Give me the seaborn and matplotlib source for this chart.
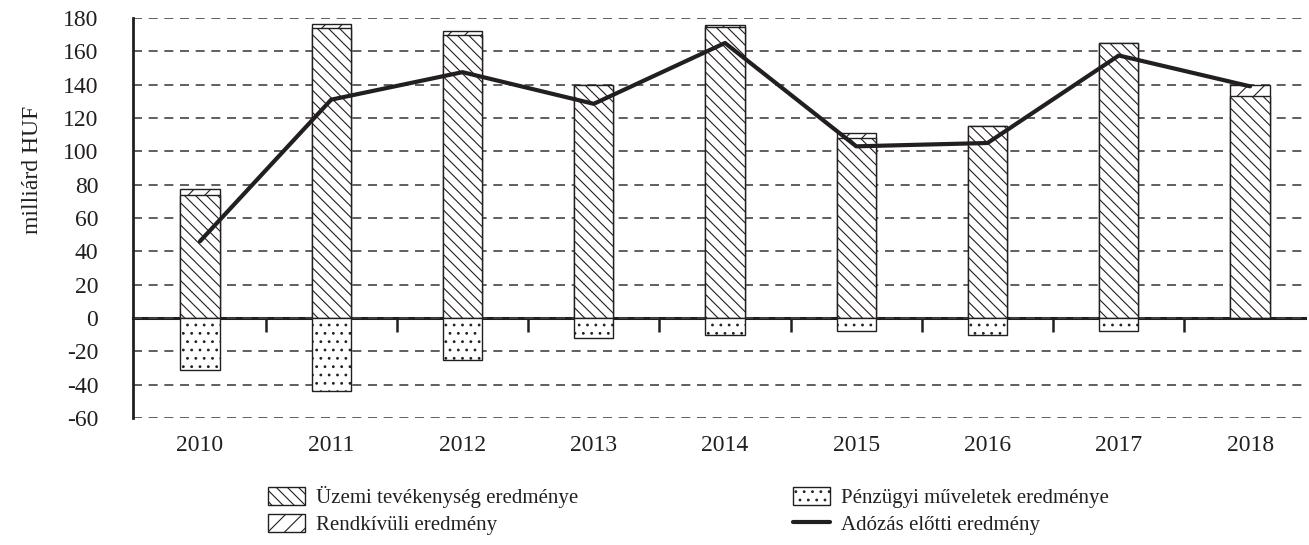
import numpy as np
import pandas as pd
import matplotlib.pyplot as plt
from matplotlib.patches import Patch
from matplotlib.lines import Line2D
import seaborn as sns

years = ['2010', '2011', '2012', '2013', '2014', '2015', '2016', '2017', '2018']
uzemi = [74, 174, 170, 140, 174.5, 108, 115, 165, 133]
rendkivuli = [3.5, 2.5, 2, 0, 1, 3, 0, 0, 6.5]
penzugyi = [-31, -43.5, -25, -12, -10, -8, -10, -8, 0]
adozas_elotti = [46, 131, 147.5, 128.5, 165, 103, 105, 157.5, 139]
y_ticks = [-60, -40, -20, 0, 20, 40, 60, 80, 100, 120, 140, 160, 180]

df = pd.DataFrame({'ev': years, 'uzemi': uzemi, 'rendkivuli': rendkivuli,
                   'penzugyi': penzugyi, 'adozas': adozas_elotti})
# the extraordinary result sits on top of the operating result
df['felso'] = df['uzemi'] + df['rendkivuli']

ink = '#231f20'
fs = 17
sns.set_style('white')
plt.rcParams['font.family'] = ['Liberation Serif', 'DejaVu Serif']
plt.rcParams['hatch.linewidth'] = 0.8
plt.rcParams['hatch.color'] = ink

fig = plt.figure(figsize=(13.09, 5.45), dpi=100)
ax = fig.add_axes([0.1016, 0.233, 0.8955, 0.734])

bar_kw = dict(color='white', saturation=1, edgecolor=ink, linewidth=1, width=0.3, ax=ax, zorder=2)
sns.barplot(data=df, x='ev', y='felso', **bar_kw)
for p in ax.containers[-1]:
    p.set_hatch('//')
sns.barplot(data=df, x='ev', y='uzemi', **bar_kw)
for p in ax.containers[-1]:
    p.set_hatch('\\\\\\')
sns.barplot(data=df, x='ev', y='penzugyi', **bar_kw)
for p in ax.containers[-1]:
    p.set_hatch('..')

sns.lineplot(data=df, x='ev', y='adozas', color=ink, linewidth=3, ax=ax, zorder=4)

ax.set_ylim(-60, 180)
ax.set_xlim(-0.51, 8.42)
ax.set_yticks(y_ticks, labels=[str(v) for v in y_ticks])
ax.yaxis.grid(True, linestyle=(0, (5.4, 4.0)), color='#444444', linewidth=1.2)
ax.set_axisbelow(True)
for s in ['top', 'right', 'bottom']:
    ax.spines[s].set_visible(False)
ax.spines['left'].set_linewidth(2)
ax.spines['left'].set_color(ink)
ax.tick_params(axis='y', length=10, width=1.8, direction='out', color=ink,
               labelsize=fs, labelcolor=ink, pad=15)
ax.tick_params(axis='x', length=0, labelsize=fs, labelcolor=ink, pad=12)
ax.set_xlabel('')
ax.set_ylabel('milliárd HUF', fontsize=fs, color=ink)
ax.yaxis.set_label_coords(-0.077, 0.62)

# zero line with category boundary ticks
sec = ax.secondary_xaxis(0.25)
sec.set_xticks(np.arange(len(years) - 1) + 0.5)
sec.tick_params(axis='x', length=10, width=1.8, direction='out', color=ink, labelbottom=False)
sec.spines['bottom'].set_linewidth(2.2)
sec.spines['bottom'].set_color(ink)

handles = [
    Patch(facecolor='white', edgecolor=ink, hatch='\\\\\\', label='Üzemi tevékenység eredménye'),
    Patch(facecolor='white', edgecolor=ink, hatch='//', label='Rendkívüli eredmény'),
    Patch(facecolor='white', edgecolor=ink, hatch='..', label='Pénzügyi műveletek eredménye'),
    Line2D([], [], color=ink, linewidth=3, label='Adózás előtti eredmény'),
]
leg = fig.legend(handles=handles, ncol=2, loc='upper left', bbox_to_anchor=(0.2047, 0.108),
                 frameon=False, fontsize=15, handlelength=1.8, handleheight=0.9,
                 handletextpad=0.5, columnspacing=10.3, labelspacing=0.3, borderaxespad=0,
                 borderpad=0)
for t in leg.get_texts():
    t.set_color(ink)

fig.savefig('out.png', dpi=100)
plt.close(fig)
